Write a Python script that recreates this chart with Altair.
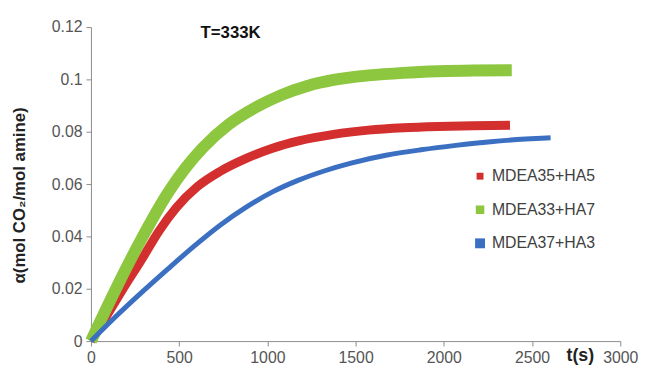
import altair as alt
import pandas as pd

series = ["MDEA35+HA5", "MDEA33+HA7", "MDEA37+HA3"]
colors = ["#d32f2f", "#8dc63f", "#3a6fc2"]
widths = [9, 12, 5]
legend_sizes = [49, 100, 36]

t_red = [0, 88, 187, 286, 385, 484, 603, 731, 880, 1029, 1177, 1375, 1573, 1771, 1969, 2167, 2375]
v_red = [0, 0.0095, 0.0205, 0.031, 0.042, 0.051, 0.059, 0.0648, 0.0698, 0.0737, 0.0765, 0.079, 0.0806, 0.0815, 0.082, 0.0823, 0.0825]

t_green = [0, 138, 286, 435, 534, 633, 781, 939, 1078, 1226, 1375, 1573, 1771, 1969, 2167, 2385]
v_green = [0, 0.0195, 0.039, 0.0565, 0.066, 0.0738, 0.0828, 0.0895, 0.094, 0.0975, 0.0998, 0.1015, 0.1025, 0.1031, 0.1034, 0.1035]

t_blue = [0, 138, 286, 435, 583, 732, 880, 1029, 1177, 1326, 1474, 1672, 1870, 2068, 2266, 2464, 2605]
v_blue = [0, 0.0092, 0.0185, 0.0275, 0.0362, 0.0443, 0.0512, 0.057, 0.0615, 0.0651, 0.068, 0.071, 0.0731, 0.0748, 0.0762, 0.0772, 0.0777]

x_ticks = [0, 500, 1000, 1500, 2000, 2500, 3000]
y_ticks = [0, 0.02, 0.04, 0.06, 0.08, 0.1, 0.12]

rows = []
for name, ts, vs in zip(series, [t_red, t_green, t_blue], [v_red, v_green, v_blue]):
    for i, (t, v) in enumerate(zip(ts, vs)):
        rows.append({"s": name, "t": t, "v": v, "i": i})
df = pd.DataFrame(rows)

FONT = "Liberation Sans"

x = alt.X("t:Q", scale=alt.Scale(domain=[0, 3000], nice=False),
          axis=alt.Axis(values=x_ticks, format="d", title="t(s)", grid=False, labelFlush=False,
                        titleX=495, titleY=20, titleAlign="center", titleBaseline="alphabetic",
                        titleFontSize=18, titleFontWeight="bold", titleColor="#222222"))
y = alt.Y("v:Q", scale=alt.Scale(domain=[0, 0.12], nice=False),
          axis=alt.Axis(values=y_ticks, format=".2~f", title="α(mol CO₂/mol amine)", grid=False,
                        labelFlush=False,
                        titleX=-72, titleY=170, titleAngle=-90, titleAlign="center",
                        titleBaseline="middle", titleFontSize=17, titleFontWeight="bold",
                        titleColor="#222222"))

legend = alt.Legend(title=None, orient="none", legendX=386, legendY=143,
                    symbolType="square", labelFontSize=16, labelColor="#404040",
                    labelFont=FONT, rowPadding=18, labelOffset=4, padding=0,
                    symbolStrokeWidth=0)
color_scale = alt.Scale(domain=series, range=colors)

# empty layer that only carries the legend (square symbols)
legend_layer = (
    alt.Chart(df).transform_filter(alt.datum.t < 0)
    .mark_square(filled=True, opacity=1)
    .encode(x=x, y=y,
            color=alt.Color("s:N", scale=color_scale, legend=legend),
            size=alt.Size("s:N", scale=alt.Scale(domain=series, range=legend_sizes), legend=legend))
)

layers = [legend_layer]
for name, w in zip(series, widths):
    layers.append(
        alt.Chart(df).transform_filter(alt.datum.s == name)
        .mark_line(interpolate="monotone", strokeWidth=w)
        .encode(x=x, y=y, color=alt.Color("s:N", scale=color_scale, legend=None), order="i:Q")
    )

chart = alt.layer(*layers).properties(
    width=536, height=318,
    autosize=alt.AutoSizeParams(type="none"),
    padding={"left": 84, "top": 17, "right": 22, "bottom": 29},
    title=alt.TitleParams("T=333K", anchor="start", frame="group", dx=111, dy=0, offset=-23,
                          fontSize=17, fontWeight="bold", font=FONT, color="#111111"),
).configure_view(stroke=None).configure_axis(
    labelFont=FONT, titleFont=FONT, labelFontSize=16, labelColor="#555555",
    domainColor="#8c8c8c", tickColor="#8c8c8c", tickSize=5, labelPadding=4,
)

chart.save("out.html", embed_options={"renderer": "svg", "actions": False})
